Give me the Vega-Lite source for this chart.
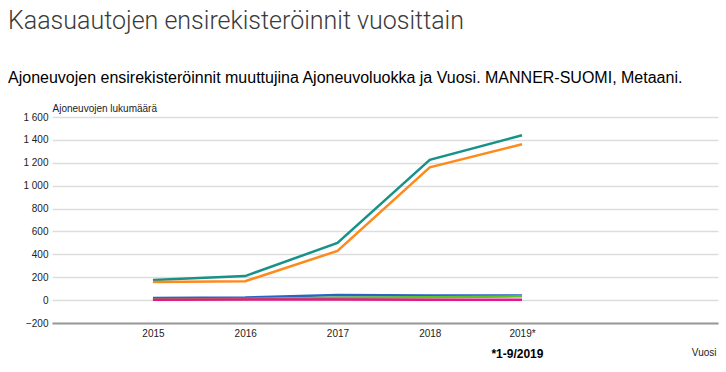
{
  "$schema": "https://vega.github.io/schema/vega-lite/v6.json",
  "width": 666,
  "height": 206,
  "autosize": {"type": "none"},
  "padding": {"left": 52, "top": 117, "right": 8, "bottom": 49},
  "background": "white",
  "title": {
    "text": "Kaasuautojen ensirekisteröinnit vuosittain",
    "subtitle": "Ajoneuvojen ensirekisteröinnit muuttujina Ajoneuvoluokka ja Vuosi. MANNER-SUOMI, Metaani.",
    "anchor": "start",
    "frame": "group",
    "dx": -44,
    "offset": 17,
    "font": "Roboto",
    "fontSize": 25,
    "fontWeight": 300,
    "color": "#3a3a3a",
    "subtitleFont": "Liberation Sans",
    "subtitleFontSize": 16,
    "subtitleColor": "#000000",
    "subtitlePadding": 36
  },
  "config": {
    "view": {"stroke": null},
    "axis": {"labelFont": "Liberation Sans", "titleFont": "Liberation Sans", "labelColor": "#222222", "titleColor": "#222222"}
  },
  "data": {
    "values": [
      {"Vuosi": 2015, "Ajoneuvoluokka": "Yhteensä", "Lukumäärä": 175},
      {"Vuosi": 2016, "Ajoneuvoluokka": "Yhteensä", "Lukumäärä": 210},
      {"Vuosi": 2017, "Ajoneuvoluokka": "Yhteensä", "Lukumäärä": 500},
      {"Vuosi": 2018, "Ajoneuvoluokka": "Yhteensä", "Lukumäärä": 1225},
      {"Vuosi": 2019, "Ajoneuvoluokka": "Yhteensä", "Lukumäärä": 1440},
      {"Vuosi": 2015, "Ajoneuvoluokka": "Henkilöauto", "Lukumäärä": 158},
      {"Vuosi": 2016, "Ajoneuvoluokka": "Henkilöauto", "Lukumäärä": 165},
      {"Vuosi": 2017, "Ajoneuvoluokka": "Henkilöauto", "Lukumäärä": 430},
      {"Vuosi": 2018, "Ajoneuvoluokka": "Henkilöauto", "Lukumäärä": 1160},
      {"Vuosi": 2019, "Ajoneuvoluokka": "Henkilöauto", "Lukumäärä": 1362},
      {"Vuosi": 2015, "Ajoneuvoluokka": "Pakettiauto", "Lukumäärä": 18},
      {"Vuosi": 2016, "Ajoneuvoluokka": "Pakettiauto", "Lukumäärä": 22},
      {"Vuosi": 2017, "Ajoneuvoluokka": "Pakettiauto", "Lukumäärä": 45},
      {"Vuosi": 2018, "Ajoneuvoluokka": "Pakettiauto", "Lukumäärä": 40},
      {"Vuosi": 2019, "Ajoneuvoluokka": "Pakettiauto", "Lukumäärä": 40},
      {"Vuosi": 2015, "Ajoneuvoluokka": "Kuorma-auto", "Lukumäärä": 5},
      {"Vuosi": 2016, "Ajoneuvoluokka": "Kuorma-auto", "Lukumäärä": 10},
      {"Vuosi": 2017, "Ajoneuvoluokka": "Kuorma-auto", "Lukumäärä": 20},
      {"Vuosi": 2018, "Ajoneuvoluokka": "Kuorma-auto", "Lukumäärä": 25},
      {"Vuosi": 2019, "Ajoneuvoluokka": "Kuorma-auto", "Lukumäärä": 33},
      {"Vuosi": 2015, "Ajoneuvoluokka": "Linja-auto", "Lukumäärä": 3},
      {"Vuosi": 2016, "Ajoneuvoluokka": "Linja-auto", "Lukumäärä": 5},
      {"Vuosi": 2017, "Ajoneuvoluokka": "Linja-auto", "Lukumäärä": 5},
      {"Vuosi": 2018, "Ajoneuvoluokka": "Linja-auto", "Lukumäärä": 3},
      {"Vuosi": 2019, "Ajoneuvoluokka": "Linja-auto", "Lukumäärä": 3}
    ]
  },
  "layer": [
    {
      "mark": {"type": "line", "strokeWidth": 2.5},
      "encoding": {
        "x": {
          "field": "Vuosi",
          "type": "quantitative",
          "scale": {"domain": [2013.906, 2021.124], "nice": false, "zero": false},
          "axis": {
            "values": [2015, 2016, 2017, 2018, 2019],
            "tickCount": 10,
            "labelExpr": "datum.value == 2019 ? '2019*' : datum.label",
            "format": "d",
            "grid": false,
            "ticks": false,
            "domain": true,
            "domainColor": "#999999",
            "domainWidth": 2,
            "labelFontSize": 10,
            "labelPadding": 5,
            "title": "Vuosi",
            "titleFontSize": 10,
            "titleFontWeight": "normal",
            "titleAnchor": "end",
            "titleAlign": "right",
            "titleX": 664,
            "titleY": 24
          }
        },
        "y": {
          "field": "Lukumäärä",
          "type": "quantitative",
          "scale": {"domain": [-200, 1600], "nice": false},
          "axis": {
            "values": [-200, 0, 200, 400, 600, 800, 1000, 1200, 1400, 1600],
            "tickCount": 20,
            "labelExpr": "replace(format(datum.value, ','), ',', ' ')",
            "labelOverlap": false,
            "grid": true,
            "gridColor": "#dddddd",
            "gridWidth": 1.5,
            "ticks": false,
            "domain": false,
            "labelFontSize": 10,
            "labelPadding": 4,
            "title": "Ajoneuvojen lukumäärä",
            "titleFontSize": 10,
            "titleFontWeight": "normal",
            "titleAngle": 0,
            "titleAlign": "left",
            "titleBaseline": "bottom",
            "titleX": 0,
            "titleY": -4
          }
        },
        "color": {
          "field": "Ajoneuvoluokka",
          "type": "nominal",
          "scale": {
            "domain": ["Yhteensä", "Henkilöauto", "Pakettiauto", "Kuorma-auto", "Linja-auto"],
            "range": ["#17928a", "#ff8a1c", "#2b62c6", "#5cc424", "#e8168c"]
          },
          "legend": null
        }
      }
    },
    {
      "data": {"values": [{"huomautus": "*1-9/2019"}]},
      "mark": {"type": "text", "font": "Liberation Sans", "fontSize": 12, "fontWeight": "bold", "color": "#000000", "align": "center", "baseline": "middle", "clip": false},
      "encoding": {
        "x": {"datum": 2018.95, "type": "quantitative"},
        "y": {"datum": -470, "type": "quantitative"},
        "text": {"field": "huomautus"}
      }
    }
  ]
}
